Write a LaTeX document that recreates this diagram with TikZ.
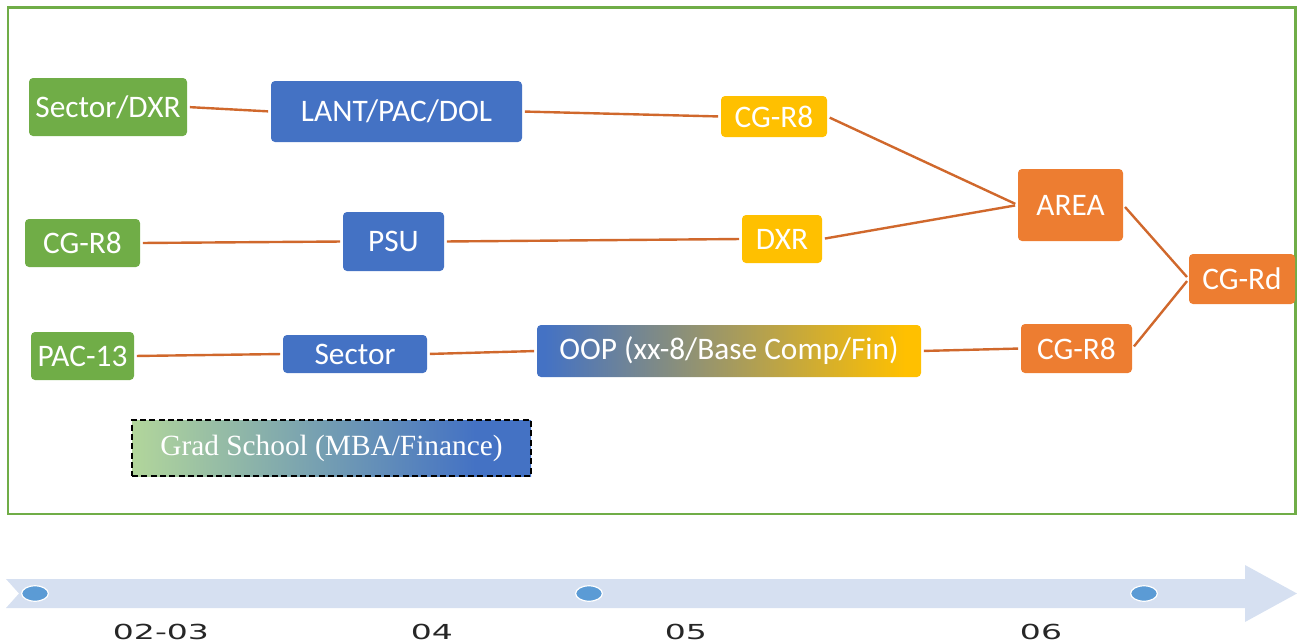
\documentclass[tikz,border=0pt]{standalone}
\usepackage{fontspec}
\setmainfont{Carlito}
\newfontfamily\gradfont{Liberation Serif}
\newfontfamily\tlfont[FakeStretch=1.6]{DejaVu Sans}

\definecolor{boxgreen}{HTML}{70AD47}
\definecolor{boxblue}{HTML}{4472C4}
\definecolor{boxyellow}{HTML}{FFC000}
\definecolor{boxorange}{HTML}{ED7D31}
\definecolor{linkcol}{RGB}{208,104,44}
\definecolor{bandcol}{HTML}{D6E0F1}
\definecolor{dotcol}{HTML}{5B9BD5}
\definecolor{gradgreen}{RGB}{178,214,155}

% left-to-right fills for the two blended boxes
\pgfdeclarehorizontalshading{oopshade}{100bp}{color(0bp)=(boxblue); color(26bp)=(boxblue); color(73bp)=(boxyellow); color(100bp)=(boxyellow)}
\pgfdeclarehorizontalshading{gradshade}{100bp}{color(0bp)=(gradgreen); color(25bp)=(gradgreen); color(68bp)=(boxblue); color(100bp)=(boxblue)}

\tikzset{
  box/.style={rounded corners=3pt, inner sep=0pt, text=white,
    font=\fontsize{23.5}{28}\selectfont},
  conn/.style={draw=linkcol, line width=1.8pt, shorten <=2pt, shorten >=2pt},
  tldot/.style={fill=dotcol, draw=white, line width=0.9pt},
  tlabel/.style={inner sep=0pt, text=black!85, font=\tlfont\fontsize{15.5}{17}\selectfont}
}

\begin{document}
\begin{tikzpicture}[x=0.75pt, y=-0.75pt]
\useasboundingbox (0,0) rectangle (1297,643);

% frame
\draw[boxgreen, line width=2pt] (8,7.5) rectangle (1295.5,514);

% boxes, left column
\node[box, fill=boxgreen, minimum width=118.5pt, minimum height=43.5pt] (secdxr) at (108,107) {Sector/DXR};
\node[box, fill=boxgreen, minimum width=86.25pt, minimum height=36pt] (cgg) at (82.5,243) {CG-R8};
\node[box, fill=boxgreen, minimum width=77.25pt, minimum height=36pt] (pac) at (82.5,356) {PAC-13};

% blue boxes
\node[box, fill=boxblue, minimum width=188.25pt, minimum height=45.75pt] (lant) at (396.5,111.5) {LANT/PAC/DOL};
\node[box, fill=boxblue, minimum width=75.75pt, minimum height=44.25pt] (psu) at (393.5,241.5) {PSU};
\node[box, fill=boxblue, minimum width=108pt, minimum height=28.5pt] (sec) at (355,354) {Sector};

% blended box
\node[box, shading=oopshade, minimum width=288pt, minimum height=39pt] (oop) at (729,351) {OOP (xx-8/Base Comp/Fin)};

% yellow boxes
\node[box, fill=boxyellow, minimum width=79.5pt, minimum height=30.75pt] (cgy) at (774,116.5) {CG-R8};
\node[box, fill=boxyellow, minimum width=60pt, minimum height=36pt] (dxr) at (782,239) {DXR};

% orange boxes
\node[box, fill=boxorange, minimum width=78.75pt, minimum height=54pt] (area) at (1070.5,205) {AREA};
\node[box, fill=boxorange, minimum width=79.5pt, minimum height=37.5pt] (cgrd) at (1242,279) {CG-Rd};
\node[box, fill=boxorange, minimum width=83.25pt, minimum height=36.75pt] (cgo) at (1076.5,348.5) {CG-R8};

% dashed school box
\node[inner sep=0pt, shading=gradshade, draw=black, line width=1.1pt,
  dash pattern=on 4.5pt off 2.5pt, text=white,
  font=\gradfont\fontsize{22}{26}\selectfont,
  minimum width=299.25pt, minimum height=42pt] (grad) at (331.5,448) {Grad School (MBA/Finance)};

% connectors
\draw[conn] (secdxr.east) -- (lant.west);
\draw[conn] (lant.east) -- (cgy.west);
\draw[conn] (cgy.east) -- (area.west);
\draw[conn] (cgg.east) -- (psu.west);
\draw[conn] (psu.east) -- (dxr.west);
\draw[conn] (dxr.east) -- (area.west);
\draw[conn] (pac.east) -- (sec.west);
\draw[conn] (sec.east) -- (oop.west);
\draw[conn] (oop.east) -- (cgo.west);
\draw[conn] (area.east) -- (cgrd.west);
\draw[conn] (cgo.east) -- (cgrd.west);

% timeline arrow
\fill[bandcol] (6,579) -- (1245,579) -- (1245,565) -- (1297,593.5)
  -- (1245,622) -- (1245,608) -- (6,608) -- (19,593.5) -- cycle;
\filldraw[tldot] (35,593.5) ellipse [x radius=10pt, y radius=5.8pt];
\filldraw[tldot] (589,593.5) ellipse [x radius=10pt, y radius=5.8pt];
\filldraw[tldot] (1144,593.5) ellipse [x radius=10pt, y radius=5.8pt];

\node[tlabel] (t1) at (161,632) {02-03};
\node[tlabel] (t2) at (432,632) {04};
\node[tlabel] (t3) at (686,632) {05};
\node[tlabel] (t4) at (1041,632) {06};
\end{tikzpicture}
\end{document}
